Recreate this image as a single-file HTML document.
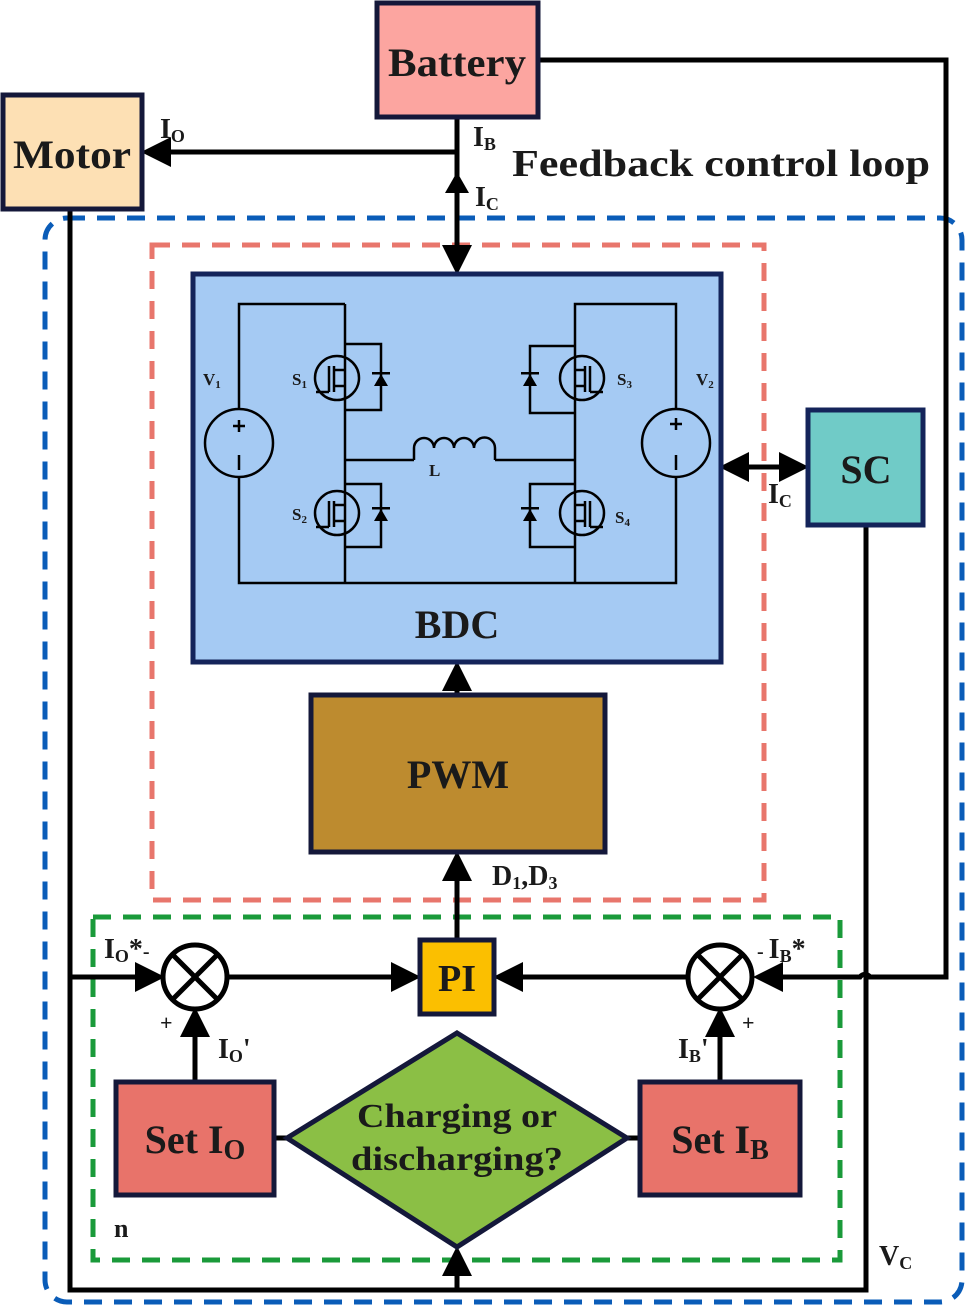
<!DOCTYPE html>
<html><head><meta charset="utf-8"><style>body{margin:0;background:#fff}svg{display:block}text{font-family:"Liberation Serif",serif;font-weight:bold;fill:#1a1a1a}</style></head>
<body>
<svg width="965" height="1307" viewBox="0 0 965 1307" xmlns="http://www.w3.org/2000/svg">
<defs>
<marker id="a" markerWidth="6" markerHeight="6" refX="5" refY="3" orient="auto" markerUnits="strokeWidth"><path d="M0,0 L6,3 L0,6 z" fill="#000"/></marker>
</defs>
<rect x="45" y="218" width="917" height="1084" rx="22" fill="none" stroke="#0a5cb8" stroke-width="5" stroke-dasharray="18,12"/>
<rect x="152" y="245" width="612" height="655" fill="none" stroke="#e8766c" stroke-width="5" stroke-dasharray="18,12"/>
<rect x="93" y="917" width="747" height="343" fill="none" stroke="#1a9a3a" stroke-width="5" stroke-dasharray="18,12"/>

<g stroke="#000" stroke-width="5" fill="none">
<path d="M538,60 H946 V977 H870 a6,6 0 0 0 -10,0 H758" marker-end="url(#a)"/>
<path d="M457,152 H146" marker-end="url(#a)"/>
<path d="M457,117 V270" marker-end="url(#a)"/>
<path d="M70,209 V1290 H866 V525"/>
<path d="M70,977 H160" marker-end="url(#a)"/>
<path d="M725,467 H804" marker-end="url(#a)"/>
<path d="M800,467 H724" marker-end="url(#a)"/>
<path d="M457,695 V666" marker-end="url(#a)"/>
<path d="M457,940 V856" marker-end="url(#a)"/>
<path d="M227,977 H416" marker-end="url(#a)"/>
<path d="M688,977 H498" marker-end="url(#a)"/>
<path d="M195,1082 V1012" marker-end="url(#a)"/>
<path d="M720,1082 V1012" marker-end="url(#a)"/>
<path d="M457,1290 V1251" marker-end="url(#a)"/>
<path d="M274,1138 H290 M624,1138 H640"/>
</g>
<path d="M457,172 L469,193 L445,193 z" fill="#000"/>

<rect x="377" y="3" width="161" height="114" fill="#fca5a0" stroke="#14183a" stroke-width="5"/>
<text x="457" y="76" font-size="40" text-anchor="middle" textLength="138" lengthAdjust="spacingAndGlyphs">Battery</text>
<rect x="3" y="95" width="139" height="114" fill="#fde0b4" stroke="#14183a" stroke-width="5"/>
<text x="72" y="168" font-size="40" text-anchor="middle" textLength="118" lengthAdjust="spacingAndGlyphs">Motor</text>
<text x="160" y="138" font-size="28">I<tspan font-size="18" dy="4">O</tspan></text>
<text x="473" y="146" font-size="28">I<tspan font-size="18" dy="4">B</tspan></text>
<text x="512" y="176" font-size="38" textLength="418" lengthAdjust="spacingAndGlyphs">Feedback control loop</text>
<text x="475" y="206" font-size="28">I<tspan font-size="18" dy="4">C</tspan></text>

<rect x="193" y="274" width="528" height="388" fill="#a5caf3" stroke="#14245a" stroke-width="5"/>
<text x="457" y="638" font-size="40" text-anchor="middle">BDC</text>

<g stroke="#000" stroke-width="2.5" fill="none">
<path d="M345,304 H239 V410 M239,476 V583 H676 V476 M676,410 V304 H575 V583 M345,304 V583"/>
<circle cx="239" cy="443" r="34"/><circle cx="676" cy="443" r="34"/>
<path d="M239,420 V432 M233,426 H245 M239,455 V470 M676,418 V430 M670,424 H682 M676,455 V470"/>
<path d="M345,460 H414 M495,460 H575"/>
<path d="M414,460 V448 a10,10 0 0 1 20,0 a10,10 0 0 1 20,0 a10,10 0 0 1 20,0 a10,10 0 0 1 21,0 V460"/>
<circle cx="337" cy="378" r="22"/><circle cx="337" cy="513" r="22"/>
<circle cx="582" cy="378" r="22"/><circle cx="582" cy="513" r="22"/>
<path d="M345,344 H381 V410 H345 M345,484 H381 V547 H345 M575,346 H530 V413 H575 M575,484 H530 V547 H575"/>
<path d="M329,366 V392 M334,366 V392 M334,370 H345 M334,386 H345 M316,392 H329 M329,501 V527 M334,501 V527 M334,505 H345 M334,521 H345 M316,527 H329"/>
<path d="M590,366 V392 M585,366 V392 M585,370 H575 M585,386 H575 M590,392 H603 M590,501 V527 M585,501 V527 M585,505 H575 M585,521 H575 M590,527 H603"/>
</g>
<g fill="#000">
<path d="M374,386 L381,374 L388,386 z"/><path d="M374,521 L381,509 L388,521 z"/>
<path d="M523,386 L530,374 L537,386 z"/><path d="M523,521 L530,509 L537,521 z"/>
<rect x="372" y="372" width="18" height="2.5"/><rect x="372" y="507" width="18" height="2.5"/>
<rect x="521" y="372" width="18" height="2.5"/><rect x="521" y="507" width="18" height="2.5"/>
</g>
<g font-size="17">
<text x="203" y="385" font-weight="normal">V<tspan font-size="11" dy="3">1</tspan></text>
<text x="292" y="385" font-weight="normal">S<tspan font-size="11" dy="3">1</tspan></text>
<text x="292" y="520" font-weight="normal">S<tspan font-size="11" dy="3">2</tspan></text>
<text x="617" y="385" font-weight="normal">S<tspan font-size="11" dy="3">3</tspan></text>
<text x="615" y="523" font-weight="normal">S<tspan font-size="11" dy="3">4</tspan></text>
<text x="696" y="385" font-weight="normal">V<tspan font-size="11" dy="3">2</tspan></text>
<text x="429" y="476" font-weight="normal">L</text>
</g>

<rect x="808" y="410" width="115" height="115" fill="#70cbc7" stroke="#14245a" stroke-width="5"/>
<text x="866" y="483" font-size="40" text-anchor="middle">SC</text>
<text x="768" y="503" font-size="28">I<tspan font-size="18" dy="4">C</tspan></text>

<rect x="311" y="695" width="294" height="157" fill="#bd8b2f" stroke="#14183a" stroke-width="5"/>
<text x="458" y="788" font-size="40" text-anchor="middle">PWM</text>
<text x="492" y="885" font-size="28">D<tspan font-size="18" dy="4">1</tspan><tspan dy="-4">,D</tspan><tspan font-size="18" dy="4">3</tspan></text>

<rect x="420" y="940" width="74" height="74" fill="#fbbf00" stroke="#14183a" stroke-width="5"/>
<text x="457" y="991" font-size="38" text-anchor="middle">PI</text>

<g stroke="#000" stroke-width="5" fill="#fff">
<circle cx="195" cy="977" r="32"/><circle cx="720" cy="977" r="32"/>
<path d="M172,954 L218,1000 M218,954 L172,1000 M697,954 L743,1000 M743,954 L697,1000" fill="none"/>
</g>

<rect x="116" y="1082" width="158" height="113" fill="#e8736a" stroke="#14183a" stroke-width="5"/>
<rect x="640" y="1082" width="160" height="113" fill="#e8736a" stroke="#14183a" stroke-width="5"/>
<text x="195" y="1153" font-size="40" text-anchor="middle">Set I<tspan font-size="28" dy="6">O</tspan></text>
<text x="720" y="1153" font-size="40" text-anchor="middle">Set I<tspan font-size="28" dy="6">B</tspan></text>
<path d="M457,1033 L627,1138 L457,1247 L287,1138 z" fill="#8bbf45" stroke="#14183a" stroke-width="5"/>
<text x="457" y="1127" font-size="34" text-anchor="middle" textLength="200" lengthAdjust="spacingAndGlyphs">Charging or</text>
<text x="457" y="1170" font-size="34" text-anchor="middle" textLength="212" lengthAdjust="spacingAndGlyphs">discharging?</text>

<text x="104" y="958" font-size="28">I<tspan font-size="18" dy="4">O</tspan><tspan dy="-4">*</tspan><tspan font-size="20">-</tspan></text>
<text x="757" y="958" font-size="28"><tspan font-size="20">- </tspan>I<tspan font-size="18" dy="4">B</tspan><tspan dy="-4">*</tspan></text>
<text x="160" y="1030" font-size="22" font-weight="normal">+</text>
<text x="742" y="1030" font-size="22" font-weight="normal">+</text>
<text x="218" y="1058" font-size="28">I<tspan font-size="18" dy="4">O</tspan><tspan dy="-4">'</tspan></text>
<text x="678" y="1058" font-size="28">I<tspan font-size="18" dy="4">B</tspan><tspan dy="-4">'</tspan></text>
<text x="114" y="1237" font-size="26">n</text>
<text x="879" y="1265" font-size="28">V<tspan font-size="18" dy="4">C</tspan></text>
</svg>
</body></html>
